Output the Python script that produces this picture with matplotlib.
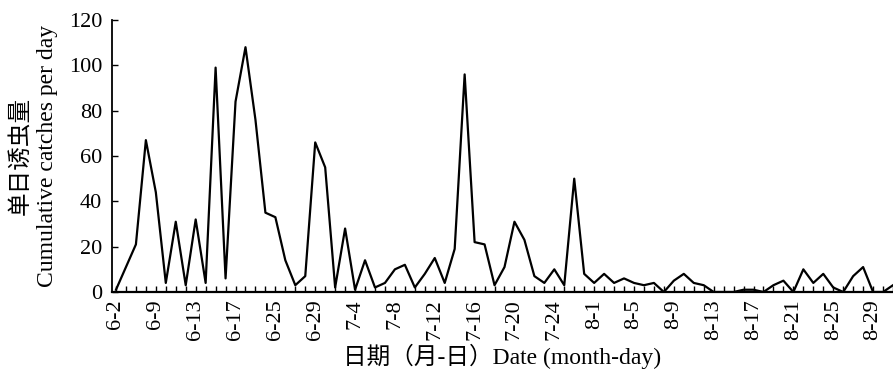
import numpy as np
import matplotlib
matplotlib.use('Agg')
import matplotlib.pyplot as plt

plt.rcParams['font.family'] = ['Liberation Serif', 'Noto Sans CJK SC']

# daily catches, one value per sampling day
Catches = [1, 11, 21, 67, 44, 4, 31, 3, 32, 4,
           99, 6, 84, 108, 76, 35, 33, 14, 3, 7,
           66, 55, 2, 28, 1, 14, 2, 4, 10, 12,
           2, 8, 15, 4, 19, 96, 22, 21, 3, 11,
           31, 23, 7, 4, 10, 3, 50, 8, 4, 8,
           4, 6, 4, 3, 4, 0, 5, 8, 4, 3,
           0, 0, 0, 1, 1, 0, 3, 5, 0, 10,
           4, 8, 2, 0, 7, 11, 0, 0, 3]

Date_Labels = ['6-2', '6-9', '6-13', '6-17', '6-25', '6-29', '7-4', '7-8',
               '7-12', '7-16', '7-20', '7-24', '8-1', '8-5', '8-9', '8-13',
               '8-17', '8-21', '8-25', '8-29']
Label_Step = 4

Idx = np.arange(len(Catches))

fig = plt.figure(figsize=(8.93, 3.76), dpi=100)
ax = fig.add_axes([112/893, 1-292/376, 1-112/893, (292-20)/376])
ax.plot(Idx, Catches, color='black', lw=1.6, clip_on=True)

ax.set_xlim(-0.4, 77.6)
ax.set_ylim(0, 120)
ax.set_yticks(np.arange(0, 121, 20))
ax.set_xticks(Idx[::Label_Step][:len(Date_Labels)])
ax.set_xticklabels(Date_Labels, rotation=90)
ax.set_xticks(Idx, minor=True)

ax.spines['top'].set_visible(False)
ax.spines['right'].set_visible(False)
ax.spines['left'].set_linewidth(1.3)
ax.spines['bottom'].set_linewidth(1.6)
ax.tick_params(axis='both', which='both', direction='in', labelsize=16, width=1)
ax.tick_params(axis='x', which='both', length=4, pad=5)
ax.tick_params(axis='y', length=4, pad=7)

# y label in two columns: Chinese and English
fig.text(20/893, 1-156/376, '单日诱虫量', rotation=90, ha='center', va='center', fontsize=17)
fig.text(48/893, 1-156/376, 'Cumulative catches per day', rotation=90, ha='center', va='center', fontsize=17)
ax.set_xlabel('日期（月-日）Date (month-day)', fontsize=17)
ax.xaxis.set_label_coords(0.5, -0.19)

fig.savefig('out.png', dpi=100)
